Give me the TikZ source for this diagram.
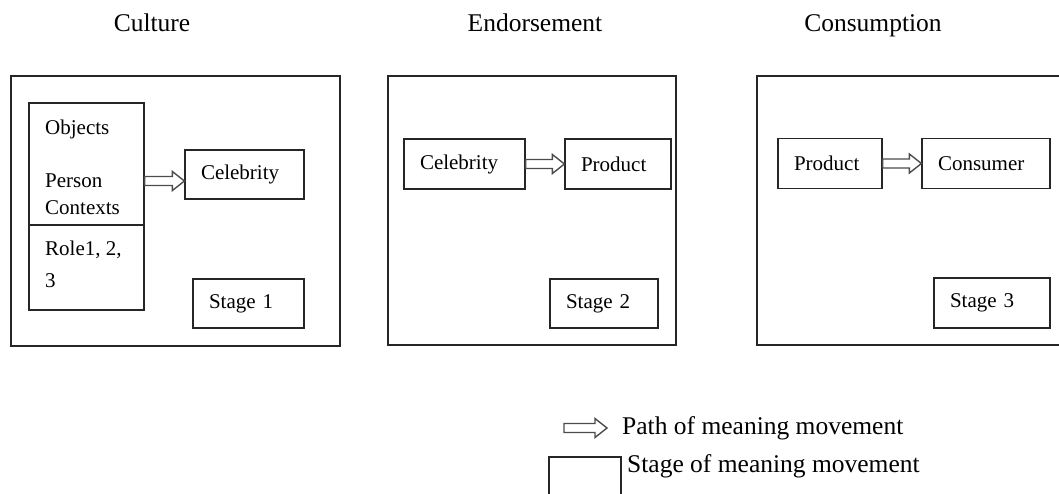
\documentclass[tikz,border=0pt]{standalone}
\usepackage{fontspec}
\setmainfont{Liberation Serif}
\usetikzlibrary{calc}
% hollow block arrow drawn from point #1 to point #2 (same height)
\newcommand{\hollowarrow}[2]{%
  \draw[flowline] let \p1=(#1), \p2=(#2) in
    (\x1,\y1+4.5pt) -- (\x2-12pt,\y1+4.5pt) -- (\x2-12pt,\y1+9.5pt) -- (\x2,\y1)
    -- (\x2-12pt,\y1-9.5pt) -- (\x2-12pt,\y1-4.5pt) -- (\x1,\y1-4.5pt) -- cycle;}
\begin{document}
\begin{tikzpicture}[x=1pt,y=-1pt,
  frame/.style={draw=black!85, line width=1.2pt, inner sep=0pt},
  boxfont/.style={font=\fontsize{21}{25}\selectfont},
  box/.style={draw=black!85, line width=1.2pt, inner xsep=16pt, inner ysep=0pt,
    align=left, boxfont},
  celltext/.style={anchor=west, inner sep=0pt, boxfont},
  heading/.style={font=\fontsize{25.5}{30}\selectfont, anchor=base},
  legendtext/.style={font=\fontsize{25.5}{30}\selectfont, anchor=west, inner sep=0pt},
  flowline/.style={draw=black!70, line width=1.4pt, line join=miter}]
\useasboundingbox (0,0) rectangle (1059,493);
\clip (0,0) rectangle (1059,493);

% column headings
\node[heading] (hcult) at (152,31) {Culture};
\node[heading] (hend) at (535,31) {Endorsement};
\node[heading] (hcons) at (873,31) {Consumption};

% stage frames
\node[frame, minimum width=329pt, minimum height=270pt] (f1) at (175.5,211) {};
\node[frame, minimum width=288pt, minimum height=269pt] (f2) at (532,210.5) {};
\node[frame, minimum width=320pt, minimum height=269pt] (f3) at (917,210.5) {};

% stage 1: culture
\node[frame, minimum width=115pt, minimum height=122pt] (objs) at (86.5,164) {};
\node[frame, minimum width=115pt, minimum height=85pt] (role) at (86.5,267.5) {};
\node[celltext] (tobj) at (45,129) {Objects};
\node[celltext] (tper) at (45,181) {Person};
\node[celltext] (tctx) at (45,208) {Contexts};
\node[celltext] (trole) at (45,250) {Role1, 2,};
\node[celltext] (tthree) at (45,281) {3};
\node[box, text width=87pt, minimum height=49pt] (cel1) at (244.5,174.5) {Celebrity};
\node[box, text width=79pt, minimum height=49pt] (st1) at (248.5,303.5) {Stage 1};
\coordinate (a1) at (0,181);
\hollowarrow{objs.east |- a1}{cel1.west |- a1}

% stage 2: endorsement
\node[box, text width=89pt, minimum height=50pt] (cel2) at (464.5,164) {Celebrity};
\node[box, text width=74pt, minimum height=50pt] (prod2) at (618,164) {Product};
\node[box, text width=76pt, minimum height=49pt] (st2) at (604,303.5) {Stage 2};
\hollowarrow{cel2.east}{prod2.west}

% stage 3: consumption
\node[box, text width=72pt, minimum height=50pt] (prod3) at (830,163.5) {Product};
\node[box, text width=96pt, minimum height=50pt] (cons) at (986,163.5) {Consumer};
\node[box, text width=84pt, minimum height=50pt] (st3) at (992,303) {Stage 3};
\hollowarrow{prod3.east}{cons.west}

% legend
\coordinate (la) at (564,428);
\coordinate (lb) at (607,428);
\hollowarrow{la}{lb}
\node[legendtext] (lpath) at (622,428) {Path of meaning movement};
\node[frame, minimum width=72pt, minimum height=70pt] (lbox) at (585,492) {};
\node[legendtext] (lstage) at (627,466) {Stage of meaning movement};
\end{tikzpicture}
\end{document}
